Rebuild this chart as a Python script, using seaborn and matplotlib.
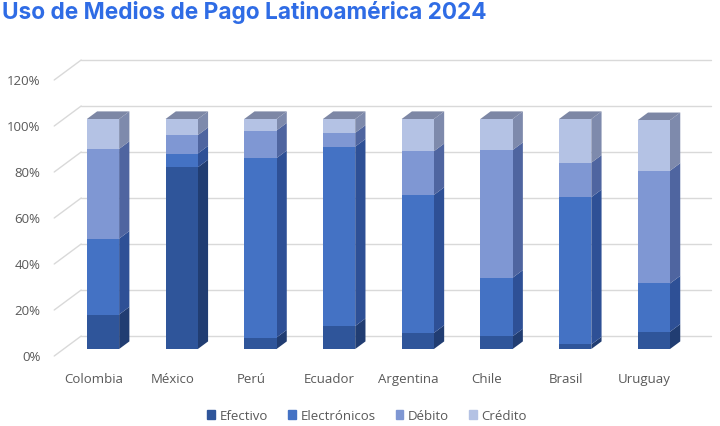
import numpy as np
import pandas as pd
import matplotlib
matplotlib.use("Agg")
import matplotlib.pyplot as plt
from matplotlib.patches import Polygon
import seaborn as sns

# ---------------------------------------------------------
# data (percent of payments)
# ---------------------------------------------------------
paises = ["Colombia", "México", "Perú", "Ecuador", "Argentina", "Chile", "Brasil", "Uruguay"]
medios = ["Efectivo", "Electrónicos", "Débito", "Crédito"]
efectivo = [15, 79, 5, 10, 7, 5.5, 2, 7.5]
electronicos = [33, 6, 78, 78, 60, 25.5, 64, 21]
debito = [39, 8, 12, 6, 19, 55.5, 15, 49]
credito = [13, 7, 5, 6, 14, 13.5, 19, 22]
y_ticks = [0, 20, 40, 60, 80, 100, 120]

# ---------------------------------------------------------
# styling
# ---------------------------------------------------------
front_cols = ["#2F559A", "#4472C4", "#7F97D3", "#B4C2E4"]
side_cols = ["#213D72", "#2E5096", "#4F65A0", "#7E8AAC"]
top_col = "#7D87A5"
grid_col = "#D9D9D9"
text_col = "#595959"

sns.set_theme(style="white")
plt.rcParams["font.family"] = ["Open Sans", "DejaVu Sans"]

fig = plt.figure(figsize=(7.2, 4.27), dpi=100)
ax = fig.add_axes([0.0884, 0.1803, 0.8744, 0.6464])

# oblique "3D" helper: depth z shifts points right / up (in data units)
kx, ky = 0.343, 8.7
z_floor, z_wall, z_bar = -0.35, 0.65, 0.38
bar_w = 0.41


def proj(x, y, z):
    return (x + z * kx, y + z * ky)


df = pd.DataFrame({"País": paises, "Efectivo": efectivo, "Electrónicos": electronicos,
                   "Débito": debito, "Crédito": credito})
long = df.melt(id_vars="País", var_name="Medio", value_name="Valor")
long["Medio"] = pd.Categorical(long["Medio"], medios, ordered=True)
long = long.sort_values(["País", "Medio"])
long["Tope"] = long.groupby("País", sort=False)["Valor"].cumsum()
long["Base"] = long["Tope"] - long["Valor"]

# back wall gridlines + side diagonals
for v in y_ticks:
    p0, p1 = proj(-0.5, v, z_wall), proj(len(paises) - 0.5, v, z_wall)
    ax.plot([p0[0], p1[0]], [p0[1], p1[1]], color=grid_col, lw=1, zorder=0, clip_on=False)
    q0 = proj(-0.5, v, z_floor)
    ax.plot([q0[0], p0[0]], [q0[1], p0[1]], color=grid_col, lw=1, zorder=0, clip_on=False)
    ax.annotate(f"{v}%", q0, xytext=(-10, 0), textcoords="offset points",
                ha="right", va="center", fontsize=9.5, color=text_col, annotation_clip=False)

# front faces: seaborn bars of cumulative tops, drawn from the top segment down
for k in range(len(medios) - 1, -1, -1):
    seg = long[long["Medio"] == medios[k]]
    sns.barplot(data=seg, x="País", y="Tope", order=paises, color=front_cols[k],
                width=bar_w, saturation=1, linewidth=0, ax=ax, zorder=3)

# side and top faces
for i, pais in enumerate(paises):
    x0, x1 = i - bar_w / 2, i + bar_w / 2
    seg = long[long["País"] == pais]
    for k, row in enumerate(seg.itertuples()):
        b, t = row.Base, row.Tope
        side = [proj(x1, b, 0), proj(x1, t, 0), proj(x1, t, z_bar), proj(x1, b, z_bar)]
        ax.add_patch(Polygon(side, closed=True, facecolor=side_cols[k], edgecolor="none",
                             zorder=2, clip_on=False))
    T = seg["Tope"].max()
    top = [proj(x0, T, 0), proj(x1, T, 0), proj(x1, T, z_bar), proj(x0, T, z_bar)]
    ax.add_patch(Polygon(top, closed=True, facecolor=top_col, edgecolor="none",
                         zorder=2, clip_on=False))
    lab = proj(i, 0, z_floor)
    ax.annotate(pais, lab, xytext=(0, -16), textcoords="offset points", ha="center",
                va="center", fontsize=9.5, color=text_col, annotation_clip=False)

ax.set_xlim(-0.5, len(paises) - 0.5)
ax.set_ylim(0, 120)
ax.set_axis_off()

# legend
handles = [plt.Rectangle((0, 0), 1, 1, color=c) for c in front_cols]
fig.legend(handles, medios, loc="center", bbox_to_anchor=(0.51, 0.024), ncol=4,
           frameon=False, fontsize=9.5, handlelength=0.6, handleheight=0.6,
           handletextpad=0.35, columnspacing=1.5, labelcolor=text_col)

fig.text(0.003, 0.997, "Uso de Medios de Pago Latinoamérica 2024", ha="left", va="top",
         fontsize=16.3, fontweight="bold", color="#2F6CE5", family=["Inter", "DejaVu Sans"])

fig.savefig("out.png", dpi=100)
